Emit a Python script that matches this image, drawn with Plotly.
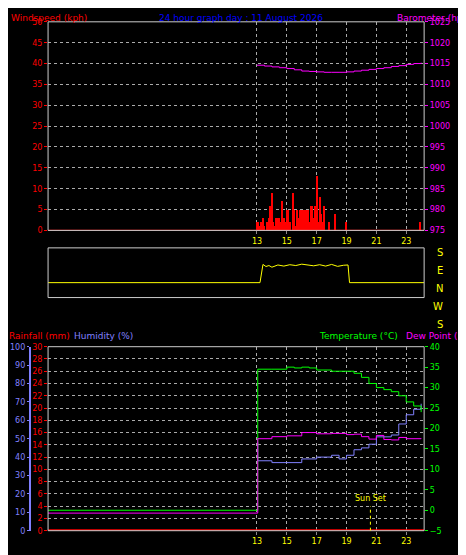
import plotly.graph_objects as go

# ---- data ----
wind_t = [13.0,13.1,13.2,13.3,13.4,13.5,13.6,13.7,13.8,13.9,14.0,14.1,14.2,14.3,14.4,14.5,14.6,14.7,14.8,14.9,
          15.0,15.1,15.2,15.3,15.4,15.5,15.6,15.7,15.8,15.9,16.0,16.1,16.2,16.3,16.4,16.5,16.6,16.7,16.8,16.9,
          17.0,17.1,17.2,17.3,17.4,17.5,17.8,18.2,19.0,23.9]
wind_v = [2,2,1,2,3,1,0,2,3,6,9,2,1,3,3,3,2,7,3,2,
          5,5,2,0,9,5,1,5,3,5,5,5,5,5,5,2,6,6,3,6,
          13,2,8,4,2,6,2,4,2,2]
baro_t = [13.0,13.5,14.0,14.5,15.0,15.5,16.0,16.5,17.0,17.5,18.0,18.5,19.0,19.5,20.0,20.5,21.0,21.5,22.0,22.5,23.0,23.5,24.0]
baro_v = [1014.6,1014.4,1014.2,1014.0,1013.8,1013.5,1013.2,1013.1,1013.0,1012.9,1012.9,1012.9,1013.0,1013.2,1013.4,1013.6,1013.8,1014.0,1014.3,1014.5,1014.8,1015.0,1015.2]
dir_t = [-1,13.0,13.2,13.4,13.6,13.8,14.0,14.4,14.8,15.2,15.6,16.0,16.4,16.8,17.2,17.6,18.0,18.4,18.8,19.1,19.2,24.2]
dir_v = [108,108,108,240,225,232,220,236,228,238,232,242,236,230,238,228,240,226,234,236,108,108]
temp_t = [-1,13.0,13.05,14.0,15.0,15.5,16.0,16.5,17.0,18.0,19.0,19.5,20.0,20.5,21.0,21.5,22.0,22.5,23.0,23.5,24.0]
temp_v = [0,0,34.5,34.5,35.0,34.8,35.0,34.8,34.3,34.0,34.0,33.5,32.5,31.0,30.0,29.5,29.0,28.0,26.5,25.5,24.0]
dew_t = [-1,13.0,13.05,14.0,15.0,16.0,17.0,18.0,19.0,19.5,20.0,20.5,21.0,21.5,22.0,22.5,23.0,24.0]
dew_v = [-0.7,-0.7,17.5,18.0,18.2,19.0,18.7,18.8,18.5,18.6,18.0,17.4,18.3,17.3,17.2,17.8,17.5,17.6]
hum_t = [13.0,13.05,14.0,15.0,16.0,17.0,18.0,18.5,19.0,19.5,20.0,20.5,21.0,21.5,22.0,22.5,23.0,23.5,24.0]
hum_v = [48,38,37,37,39,40,41,39,41,44,45,47,51,51,52,58,63,66,69]
rain_t = [-1,24.2]
rain_v = [0,0]
xticks = [13,15,17,19,21,23]

RED, MAG, BLUE, GRN, YEL = "#ff0000", "#ff00ff", "#8080ff", "#00ff00", "#ffff00"
fig = go.Figure()
fig.add_bar(x=wind_t, y=wind_v, marker_color=RED, marker_line_width=0, width=0.07, xaxis="x", yaxis="y")
fig.add_scatter(x=baro_t, y=baro_v, mode="lines", line=dict(color=MAG, width=1, shape="hv"), xaxis="x", yaxis="y2")
fig.add_scatter(x=[-1, 24.2], y=[0, 0], mode="lines", line=dict(color=RED, width=1.5), xaxis="x", yaxis="y")
fig.add_scatter(x=dir_t, y=dir_v, mode="lines", line=dict(color=YEL, width=1), xaxis="x2", yaxis="y3")
fig.add_scatter(x=rain_t, y=rain_v, mode="lines", line=dict(color=RED, width=3), xaxis="x3", yaxis="y4")
fig.add_scatter(x=hum_t, y=hum_v, mode="lines", line=dict(color=BLUE, width=1, shape="hv"), xaxis="x3", yaxis="y5")
fig.add_scatter(x=temp_t, y=temp_v, mode="lines", line=dict(color=GRN, width=1, shape="hv"), xaxis="x3", yaxis="y6")
fig.add_scatter(x=dew_t, y=dew_v, mode="lines", line=dict(color=MAG, width=1, shape="hv"), xaxis="x3", yaxis="y6")

dom = [0.086, 0.893]
xr = [-1, 24.2]
grid = dict(showgrid=True, gridcolor="#aaaaaa", griddash="dot", gridwidth=1)
xcommon = dict(range=xr, domain=dom, tickvals=xticks, tickfont=dict(color=YEL, size=8), ticks="outside",
               ticklen=3, tickcolor="#888", zeroline=False, **grid)
tf = dict(size=8)
fig.update_layout(
    width=466, height=555, margin=dict(l=0, r=0, t=0, b=0), paper_bgcolor="black", plot_bgcolor="black",
    showlegend=False, font=dict(family="DejaVu Sans", size=8), bargap=0,
    xaxis=dict(anchor="y", **xcommon),
    xaxis2=dict(anchor="y3", range=xr, domain=dom, showticklabels=False, showgrid=False, zeroline=False),
    xaxis3=dict(anchor="y4", **xcommon),
    yaxis=dict(domain=[0.6, 0.982], range=[0, 50], dtick=5, tickfont=dict(color=RED, **tf), ticks="outside",
               tickcolor=RED, ticklen=3, zeroline=False, **grid),
    yaxis2=dict(overlaying="y", side="right", anchor="x", range=[975, 1025], dtick=5, tickfont=dict(color=MAG, **tf),
                ticks="outside", tickcolor=MAG, ticklen=3, showgrid=False, zeroline=False),
    yaxis3=dict(domain=[0.477, 0.568], range=[0, 360], showticklabels=False, showgrid=False, zeroline=False),
    yaxis4=dict(domain=[0.05, 0.387], range=[0, 30], dtick=2, tickfont=dict(color=RED, **tf), ticks="outside",
                tickcolor=RED, ticklen=3, zeroline=False, **grid),
    yaxis5=dict(overlaying="y4", anchor="free", position=0.047, side="left", range=[0, 100], dtick=10,
                tickfont=dict(color=BLUE, **tf), showline=True, linecolor=BLUE, linewidth=2, ticks="outside",
                tickcolor=BLUE, ticklen=2, showgrid=False, zeroline=False),
    yaxis6=dict(overlaying="y4", side="right", anchor="x3", range=[-5, 40], dtick=5, tickfont=dict(color=GRN, **tf),
                ticks="outside", tickcolor=GRN, ticklen=3, showgrid=False, zeroline=False),
)
for y0, y1 in [(0.6, 0.982), (0.477, 0.568), (0.05, 0.387)]:
    fig.add_shape(type="rect", xref="paper", yref="paper", x0=dom[0], x1=dom[1], y0=y0, y1=y1,
                  line=dict(color="#cccccc", width=1))
fig.add_shape(type="line", xref="x3", yref="y4", x0=20.6, x1=20.6, y0=0, y1=4,
              line=dict(color=YEL, width=1, dash="dot"))
ann = [
    (0.005, 1.0, "Windspeed (kph)", RED, "left"),
    (0.5, 1.0, "24 hour graph day : 11 August 2026", "#0000ff", "center"),
    (0.998, 1.0, "Barometer (hpa)", MAG, "right"),
    (0.0, 0.418, "Rainfall (mm)", RED, "left"),
    (0.14, 0.418, "Humidity (%)", BLUE, "left"),
    (0.665, 0.418, "Temperature (°C)", GRN, "left"),
    (0.998, 0.418, "Dew Point (°C)", MAG, "right"),
]
for x, y, t, c, xa in ann:
    fig.add_annotation(x=x, y=y, xref="paper", yref="paper", text=t, showarrow=False, xanchor=xa,
                       yanchor="top", font=dict(color=c, size=9), borderpad=0)
for i, t in enumerate(["S", "E", "N", "W", "S"]):
    fig.add_annotation(x=0.938, y=1 - (244 + 18.5 * i) / 555, xref="paper", yref="paper", text=t,
                       showarrow=False, font=dict(color=YEL, size=10))
fig.add_annotation(x=20.6, y=4.2, xref="x3", yref="y4", text="Sun Set", showarrow=False, yanchor="bottom",
                   font=dict(color=YEL, size=8))
fig.write_html("out.html")
